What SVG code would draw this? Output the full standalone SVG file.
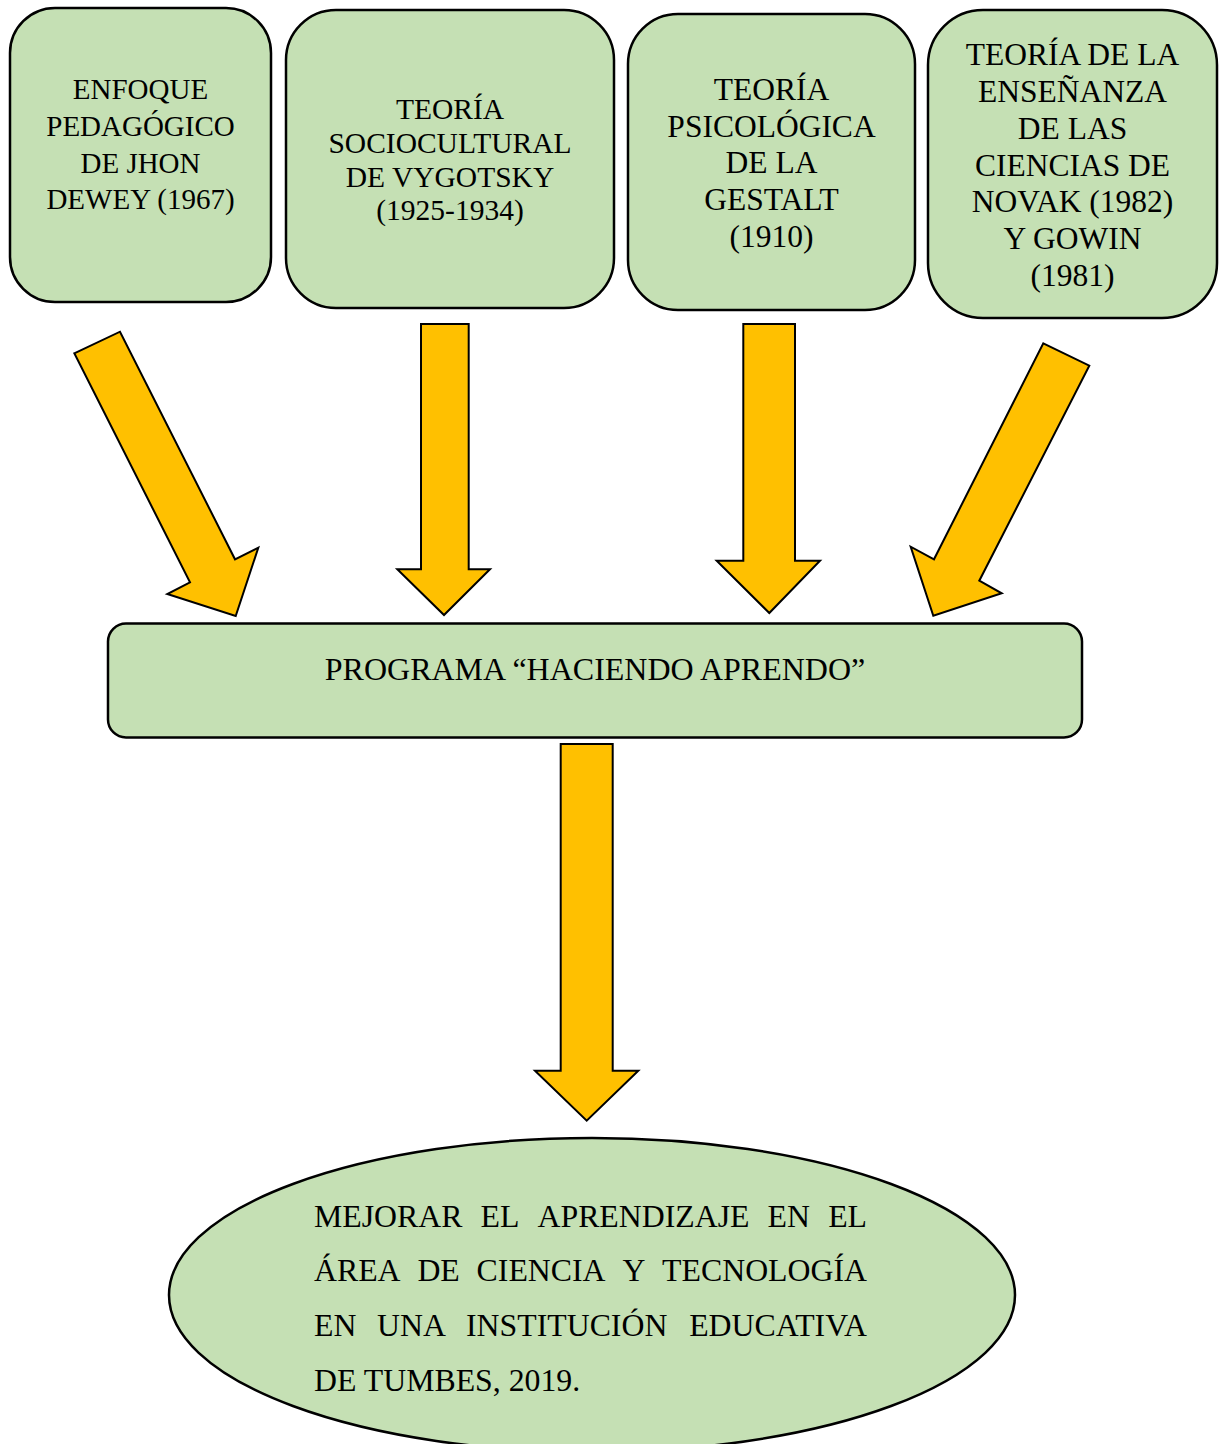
<svg xmlns="http://www.w3.org/2000/svg" width="1219" height="1444" viewBox="0 0 1219 1444">
<style>
.box{fill:#C5E0B4;stroke:#000;stroke-width:2.5}
.arr{fill:#FFC000;stroke:#000;stroke-width:2;stroke-linejoin:miter}
.t{font-family:"Liberation Serif","Times New Roman",serif;fill:#000;text-anchor:middle}
.e{font-family:"Liberation Serif","Times New Roman",serif;fill:#000;font-size:31.8px}
.r{text-anchor:end}
</style>
<rect width="1219" height="1444" fill="#fff"/>
<g id="connectors">
<polygon class="arr" points="74.3,353.3 120,331.7 235,559.3 258.3,547.7 235.7,616 167.3,594 190,582.3"/>
<polygon class="arr" points="421,324 468.7,324 468.7,569.3 490,569.3 444,615 397.3,569.3 421,569.3"/>
<polygon class="arr" points="743.3,324 795,324 795,560.7 820,560.7 769.3,613 716.7,560.7 743.3,560.7"/>
<polygon class="arr" points="1043.3,343.3 1089.3,365.7 979.3,580.7 1001.7,593.3 933.3,615.7 910.7,546.7 934,559.3"/>
<polygon class="arr" points="560.7,744 612.7,744 612.7,1070.7 638.3,1070.7 586.7,1120.7 535,1070.7 560.7,1070.7"/>
</g>
<g id="n1">
<rect class="box" x="10" y="8" width="261" height="294" rx="45" ry="45"/>
<text class="t" font-size="29"><tspan x="140.5" y="99">ENFOQUE</tspan><tspan x="140.5" y="136">PEDAGÓGICO</tspan><tspan x="140.5" y="172.5">DE JHON</tspan><tspan x="140.5" y="209">DEWEY (1967)</tspan></text>
</g>
<g id="n2">
<rect class="box" x="286" y="10" width="328" height="298" rx="50" ry="50"/>
<text class="t" font-size="29.5"><tspan x="450" y="119">TEORÍA</tspan><tspan x="450" y="153">SOCIOCULTURAL</tspan><tspan x="450" y="186.5">DE VYGOTSKY</tspan><tspan x="450" y="220">(1925-1934)</tspan></text>
</g>
<g id="n3">
<rect class="box" x="628" y="14" width="287" height="296" rx="50" ry="50"/>
<text class="t" font-size="31.5"><tspan x="771.5" y="99.5">TEORÍA</tspan><tspan x="771.5" y="136.5">PSICOLÓGICA</tspan><tspan x="771.5" y="173.3">DE LA</tspan><tspan x="771.5" y="210">GESTALT</tspan><tspan x="771.5" y="246.5">(1910)</tspan></text>
</g>
<g id="n4">
<rect class="box" x="928" y="10" width="289" height="308" rx="55" ry="55"/>
<text class="t" font-size="31.5"><tspan x="1072.5" y="64.5">TEORÍA DE LA</tspan><tspan x="1072.5" y="101.5">ENSEÑANZA</tspan><tspan x="1072.5" y="138.5">DE LAS</tspan><tspan x="1072.5" y="175.5">CIENCIAS DE</tspan><tspan x="1072.5" y="212.3">NOVAK (1982)</tspan><tspan x="1072.5" y="249.3">Y GOWIN</tspan><tspan x="1072.5" y="286">(1981)</tspan></text>
</g>
<g id="n5">
<rect class="box" x="108" y="623.5" width="974" height="114" rx="18" ry="18"/>
<text class="t" font-size="32" x="595" y="680">PROGRAMA “HACIENDO APRENDO”</text>
</g>
<g id="n6">
<ellipse class="box" cx="592" cy="1295" rx="423" ry="157"/>
<text class="e" y="1227"><tspan x="314">MEJORAR</tspan><tspan x="480.5">EL</tspan><tspan x="537.5">APRENDIZAJE</tspan><tspan x="767.6">EN</tspan></text>
<text class="e r" x="867" y="1227">EL</text>
<text class="e" y="1281"><tspan x="314">ÁREA</tspan><tspan x="417.4">DE</tspan><tspan x="476.6">CIENCIA</tspan><tspan x="622.4">Y</tspan></text>
<text class="e r" x="867" y="1281">TECNOLOGÍA</text>
<text class="e" y="1336"><tspan x="314">EN</tspan><tspan x="377">UNA</tspan><tspan x="466">INSTITUCIÓN</tspan></text>
<text class="e r" x="867" y="1336">EDUCATIVA</text>
<text class="e" x="314" y="1391">DE TUMBES, 2019.</text>
</g>
</svg>
